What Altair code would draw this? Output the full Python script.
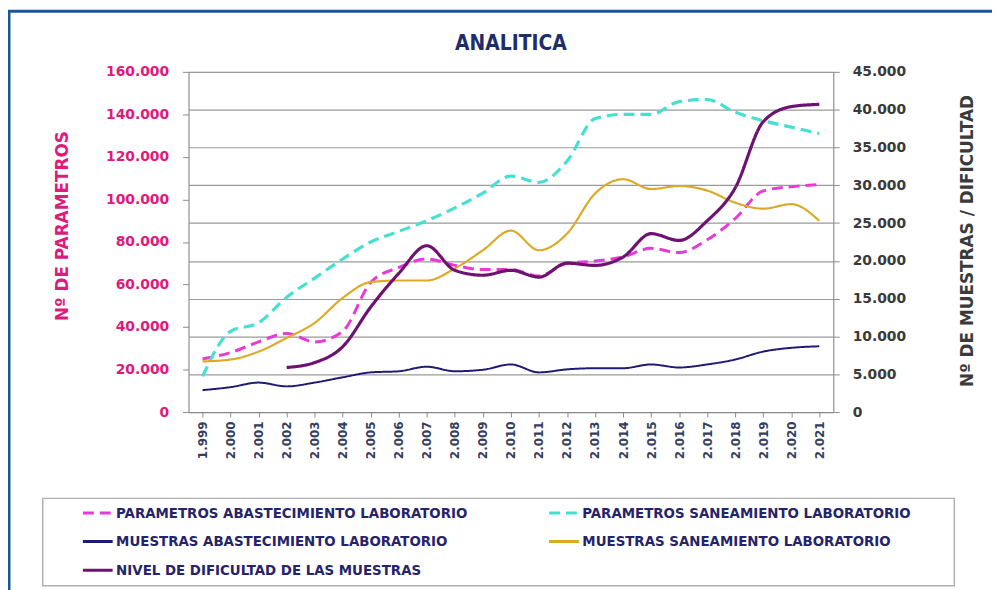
import altair as alt
import pandas as pd

YEARS = ["1.999", "2.000", "2.001", "2.002", "2.003", "2.004", "2.005", "2.006",
         "2.007", "2.008", "2.009", "2.010", "2.011", "2.012", "2.013", "2.014",
         "2.015", "2.016", "2.017", "2.018", "2.019", "2.020", "2.021"]

SERIES = ["PARAMETROS ABASTECIMIENTO LABORATORIO",
          "PARAMETROS SANEAMIENTO LABORATORIO",
          "MUESTRAS ABASTECIMIENTO LABORATORIO",
          "MUESTRAS SANEAMIENTO LABORATORIO",
          "NIVEL DE DIFICULTAD DE LAS MUESTRAS"]

PARAM_ABAST = [25000, 28000, 33000, 37000, 33000, 38000, 61000, 68000, 72000, 69000, 67000, 67000,
               64000, 70000, 71000, 73000, 77000, 75000, 81000, 91000, 104000, 106000, 107000]
PARAM_SAN = [16800, 38000, 42000, 54000, 63000, 72000, 80000, 85000, 90000, 96000, 103000, 111000,
             108000, 118000, 138000, 140000, 140000, 146000, 147000, 141000, 137000, 134000, 131000]
MUEST_ABAST = [2900, 3300, 3900, 3400, 3900, 4600, 5250, 5400, 6000, 5400, 5600, 6300,
               5250, 5650, 5800, 5800, 6300, 5900, 6300, 6950, 8000, 8500, 8700]
MUEST_SAN = [6700, 6950, 8000, 9800, 11800, 15100, 17200, 17400, 17400, 19000, 21400, 24000,
             21400, 23600, 28900, 30800, 29500, 29900, 29300, 27700, 26900, 27500, 25300]
NIVEL = [None, None, None, 5900, 6550, 8650, 13900, 18350, 22000, 18750, 18100, 18750,
         17850, 19700, 19400, 20500, 23600, 22700, 25300, 29650, 38400, 40400, 40700]

COLORS = {SERIES[0]: "#E83AD8", SERIES[1]: "#45E0D2", SERIES[2]: "#1E1B72",
          SERIES[3]: "#DDAA25", SERIES[4]: "#6E1272"}
DASHES = {SERIES[0]: [11, 6], SERIES[1]: [11, 6], SERIES[2]: [1, 0],
          SERIES[3]: [1, 0], SERIES[4]: [1, 0]}
WIDTHS = {SERIES[0]: 3, SERIES[1]: 3.2, SERIES[2]: 2, SERIES[3]: 2.2, SERIES[4]: 3.2}

# legend fills column by column: left column first, then right column
LEGEND_ORDER = [SERIES[0], SERIES[2], SERIES[4], SERIES[1], SERIES[3]]

rows = []
for name, vals in zip(SERIES, [PARAM_ABAST, PARAM_SAN, MUEST_ABAST, MUEST_SAN, NIVEL]):
    for y, v in zip(YEARS, vals):
        if v is not None:
            rows.append({"year": y, "series": name, "value": v})
df = pd.DataFrame(rows)

FONT = "DejaVu Sans"
COND = "DejaVu Sans Condensed"
PINK = "#E0197D"
GREY = "#3a3a3a"

legend = alt.Legend(
    orient="none", legendX=-108, legendY=428, columns=2, columnPadding=75,
    rowPadding=4, padding=0, gridAlign="each", symbolType="stroke", symbolSize=900,
    symbolStrokeWidth=3,
    labelFont=COND, labelFontSize=15, labelFontWeight="bold", labelColor="#25246A",
    labelLimit=600, labelOffset=2, title=None,
)

x = alt.X("year:N", sort=YEARS, scale=alt.Scale(domain=YEARS),
          axis=alt.Axis(title=None, labelAngle=-90, labelFont=FONT, labelFontSize=12,
                        labelFontWeight="bold", labelColor="#34405e", tickSize=5,
                        labelPadding=4, domainColor="#8a8a8a", tickColor="#8a8a8a"))

color = alt.Color("series:N", title=None,
                  scale=alt.Scale(domain=LEGEND_ORDER, range=[COLORS[s] for s in LEGEND_ORDER]),
                  legend=legend)
dash = alt.StrokeDash("series:N", title=None,
                      scale=alt.Scale(domain=LEGEND_ORDER, range=[DASHES[s] for s in LEGEND_ORDER]),
                      legend=legend)

y_left = alt.Y("value:Q", scale=alt.Scale(domain=[0, 160000], nice=False),
               axis=alt.Axis(orient="left", title="Nº DE PARAMETROS", grid=False,
                             values=list(range(0, 160001, 20000)),
                             labelExpr="replace(format(datum.value, ','), ',', '.')",
                             labelFont=FONT, labelFontSize=14, labelFontWeight="bold",
                             labelColor=PINK, labelPadding=14, tickSize=6,
                             tickColor="#8a8a8a", domainColor="#8a8a8a",
                             titleFont=FONT, titleFontSize=17, titleFontWeight="bold",
                             titleColor=PINK, titleAngle=270, titleX=-127, titleY=155,
                             titleAlign="center", titleBaseline="middle"))

y_right = alt.Y("value:Q", scale=alt.Scale(domain=[0, 45000], nice=False),
                axis=alt.Axis(orient="right", title="Nº DE MUESTRAS / DIFICULTAD", grid=True,
                              gridColor="#9a9a9a", gridWidth=1.2,
                              values=list(range(0, 45001, 5000)),
                              labelExpr="replace(format(datum.value, ','), ',', '.')",
                              labelFont=FONT, labelFontSize=14, labelFontWeight="bold",
                              labelColor=GREY, labelPadding=13, tickSize=6,
                              tickColor="#8a8a8a", domainColor="#8a8a8a",
                              titleFont=FONT, titleFontSize=17, titleFontWeight="bold",
                              titleColor=GREY, titleAngle=270, titleX=135, titleY=170,
                              titleAlign="center", titleBaseline="middle"))

base = alt.Chart(df)


def line(name, ydef):
    return base.transform_filter(
        alt.FieldEqualPredicate(field="series", equal=name)
    ).mark_line(interpolate="monotone", strokeWidth=WIDTHS[name]).encode(
        x=x, y=ydef, color=color, strokeDash=dash)


left = alt.layer(line(SERIES[0], y_left), line(SERIES[1], y_left))
right = alt.layer(line(SERIES[2], y_right), line(SERIES[3], y_right), line(SERIES[4], y_right))

one = pd.DataFrame({"k": [0]})
frame = alt.Chart(one).mark_rect(filled=False, stroke="#1B5598", strokeWidth=3).encode(
    x=alt.value(-181), x2=alt.value(815), y=alt.value(-61), y2=alt.value(535))
legbox = alt.Chart(one).mark_rect(filled=False, stroke="#b0b0b0", strokeWidth=1.5).encode(
    x=alt.value(-147), x2=alt.value(772), y=alt.value(430), y2=alt.value(518))

chart = alt.layer(frame, legbox, left, right).resolve_scale(y="independent").properties(
    width=650, height=343,
    autosize=alt.AutoSizeParams(type="none"),
    padding={"left": 182, "top": 62, "right": 160, "bottom": 177},
    title=alt.TitleParams("ANALITICA", font=COND, fontSize=21, fontWeight="bold",
                          color="#1F2D6B", anchor="middle", frame="group",
                          offset=19, dy=63),
).configure_view(stroke="#9a9a9a").configure(background="white")

chart.save("out.html", embed_options={"renderer": "svg", "actions": False})
